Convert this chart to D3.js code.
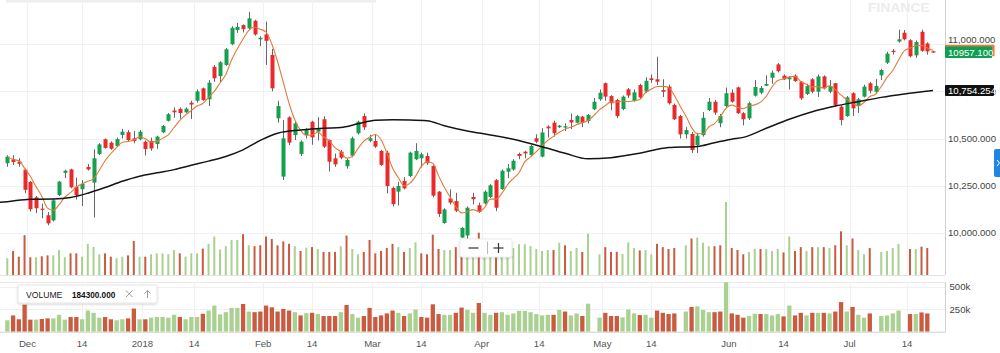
<!DOCTYPE html>
<html><head><meta charset="utf-8">
<script src="https://cdn.jsdelivr.net/npm/d3@7"></script>
<style>
body{margin:0;background:#fff;overflow:hidden;}
svg{display:block;font-family:"Liberation Sans",Arial,Helvetica,sans-serif;}
</style>
</head><body>
<svg id="chart" width="1000" height="353"></svg>
<script>
// ---------- DATA ----------
const opens = [10369,10390,10378,10335,10270,10188,10128,10093,10066,10200,10318,10336,10244,10231,10349,10266,10418,10496,10478,10460,
10519,10533,10501,10496,10483,10487,10471,10533,10594,10648,10657,10639,10690,10700,10766,10708,10880,10831,10890,11000,
11075,11101,11084,11124,11026,11052,10943,10607,10298,10612,10518,10418,10518,10589,10536,10602,10492,10395,10430,10353,
10409,10528,10619,10488,10487,10434,10425,10238,10218,10275,10301,10390,10395,10407,10354,10218,10052,10182,10168,9975,
9986,10190,10146,10156,10190,10279,10232,10324,10336,10418,10430,10412,10501,10404,10563,10584,10560,10558,10598,10584,
10616,10593,10655,10708,10793,10725,10704,10656,10761,10699,10783,10748,10819,10814,10757,10775,10678,10619,10522,10524,
10466,10518,10651,10695,10581,10672,10743,10771,10634,10607,10727,10743,10780,10822,10893,10833,10814,10833,10801,10736,
10814,10748,10829,10748,10793,10669,10619,10740,10672,10722,10793,10748,10835,10902,10965,11014,11061,11021,10941,11066,
11004,10962];
const highs = [10412,10412,10395,10340,10275,10195,10155,10110,10180,10275,10335,10340,10293,10279,10365,10443,10476,10500,10485,10505,
10551,10545,10540,10545,10490,10505,10515,10572,10635,10665,10665,10665,10700,10760,10770,10810,10890,10910,10980,11095,
11113,11105,11172,11130,11042,11119,10975,10700,10598,10618,10590,10490,10555,10594,10613,10618,10495,10420,10440,10395,
10510,10595,10633,10520,10523,10440,10435,10245,10270,10295,10430,10475,10425,10425,10358,10222,10130,10230,10212,10030,
10140,10212,10160,10225,10258,10285,10335,10365,10390,10425,10435,10468,10522,10555,10570,10595,10572,10580,10633,10625,
10620,10630,10715,10760,10797,10730,10710,10728,10768,10760,10790,10825,10840,10934,10814,10785,10685,10625,10560,10535,
10530,10640,10715,10705,10630,10770,10760,10775,10640,10695,10810,10778,10835,10860,10900,10840,10830,10840,10805,10790,
10820,10840,10835,10810,10795,10675,10725,10745,10715,10785,10800,10815,10870,10960,10975,11077,11075,11027,11020,11077,
11010,10965];
const lows = [10350,10360,10350,10210,10113,10104,10077,10040,10060,10195,10290,10236,10177,10142,10330,10081,10412,10446,10440,10455,
10500,10485,10475,10490,10410,10435,10445,10528,10590,10610,10605,10635,10603,10690,10700,10672,10800,10800,10885,10995,
11060,11062,11078,11045,10990,10890,10750,10584,10280,10465,10492,10407,10500,10467,10490,10450,10325,10350,10390,10340,
10400,10522,10545,10480,10450,10355,10210,10140,10145,10230,10295,10385,10346,10360,10188,10084,10048,10150,10110,9972,
9950,10150,10105,10150,10185,10115,10228,10290,10330,10390,10395,10405,10475,10400,10505,10510,10555,10540,10550,10580,
10560,10580,10650,10700,10700,10650,10608,10650,10715,10695,10710,10742,10795,10783,10720,10680,10598,10500,10500,10423,
10423,10510,10645,10625,10560,10665,10690,10630,10570,10598,10722,10735,10778,10790,10850,10810,10760,10800,10705,10730,
10740,10720,10760,10740,10670,10570,10615,10620,10635,10718,10740,10740,10810,10895,10945,11008,11020,10930,10928,10960,
10944,10955];
const closes = [10404,10375,10366,10228,10125,10130,10122,10050,10172,10271,10329,10241,10200,10259,10336,10395,10469,10450,10446,10497,
10536,10492,10487,10536,10444,10447,10510,10566,10629,10639,10635,10658,10680,10750,10704,10796,10819,10904,10973,11087,
11092,11080,11137,11052,11034,11018,10766,10672,10501,10478,10580,10483,10545,10506,10554,10457,10377,10363,10398,10386,
10501,10589,10559,10501,10457,10360,10248,10152,10248,10236,10425,10434,10416,10369,10197,10100,10124,10160,10117,10026,
10133,10178,10111,10218,10252,10133,10329,10342,10382,10407,10421,10460,10483,10532,10554,10528,10568,10565,10585,10619,
10584,10625,10695,10743,10722,10687,10619,10722,10728,10745,10718,10806,10810,10801,10748,10687,10602,10522,10545,10439,
10515,10610,10695,10637,10619,10740,10695,10634,10602,10687,10773,10768,10789,10849,10857,10814,10824,10805,10713,10778,
10748,10829,10766,10778,10678,10598,10718,10660,10708,10775,10753,10778,10863,10950,10958,11026,11026,10936,11012,10965,
10962,10957.1];
const volumes = [127000,181000,138000,300000,134000,134000,141000,148000,148000,188000,134000,163000,163000,138000,235000,210000,156000,163000,138000,127000,
138000,148000,257000,138000,138000,156000,163000,163000,156000,188000,163000,138000,163000,163000,199000,235000,290000,192000,217000,264000,
264000,308000,224000,217000,224000,290000,271000,224000,253000,235000,217000,181000,206000,210000,196000,174000,174000,174000,217000,297000,
196000,156000,174000,264000,163000,181000,203000,235000,210000,174000,203000,246000,163000,156000,304000,196000,188000,188000,210000,268000,
243000,210000,319000,210000,188000,210000,217000,188000,203000,232000,232000,217000,196000,181000,188000,188000,243000,224000,181000,203000,
174000,311000,0,156000,210000,174000,174000,159000,246000,203000,185000,188000,156000,235000,210000,196000,203000,0,224000,275000,
282000,243000,217000,217000,224000,550000,203000,188000,156000,174000,199000,196000,196000,181000,196000,170000,290000,181000,210000,181000,
210000,210000,210000,203000,224000,329000,224000,275000,188000,156000,203000,0,174000,181000,203000,235000,0,196000,196000,214000,
203000,0];
// long moving average (black line), read at these candle indices
const longMaIndex = [-2,0,4,8,11,14,17,20,23,26,29,32,35,38,41,44,47,51,55,58,61,64,67,70,73,76,80,84,88,94,97,101,105,110,115,120,123,126,128,132,136,140,144,148,152,156,161];
const longMaValue = [10160,10165,10178,10179,10187,10210,10240,10273,10300,10318,10335,10358,10380,10405,10440,10490,10528,10545,10555,10558,10578,10597,10599,10598,10594,10568,10540,10519,10496,10448,10422,10392,10398,10422,10452,10458,10478,10496,10506,10554,10602,10642,10672,10695,10718,10736,10754.254];
const shortMaPeriod = 5;
const priceTicks = [10000,10250,10500,10750,11000];
const volumeTicks = [250000,500000];
const xTickLabels = ["Dec","14","2018","14","Feb","14","Mar","14","Apr","14","May","14","Jun","14","Jul","14"];
const xTickAt = [3.5,13,23.5,32.5,44.5,53,63.5,72,82.5,92.5,103.5,112,125.5,135,146.5,156.5];
const lastPrice = 10957.1;
const longMaLast = 10754.254;
const volumeReadout = 184300;
const volumeTitle = "VOLUME";
const watermark = "FINANCE";

// ---------- LAYOUT ----------
const svg = d3.select("#chart");
const plotRight = 945, mainTop = 0, mainBottom = 275, panelTop = 282, panelBottom = 331.7;
const n = closes.length;
const x = d3.scaleLinear().domain([0, n - 1]).range([7.3, 933]);
const y = d3.scaleLinear().domain([10000, 10500]).range([232.8, 138.5]);
const yUnder = d3.scaleLinear().domain([0, 550000]).range([mainBottom, 202]);
const yVol = d3.scaleLinear().domain([0, 500000]).range([panelBottom, 286.7]);

const C = {up:"#13a04f", down:"#ea2a2a", wick:"#666", vUp:"#a9d191", vDown:"#c85b40",
  grid:"#f1f1f1", axis:"#d0d0d0", text:"#444", orange:"#e27b3b", black:"#151515"};

const data = closes.map((c, i) => ({i, o: opens[i], h: highs[i], l: lows[i], c, v: volumes[i]}));

const defs = svg.append("defs");
defs.append("clipPath").attr("id","clipMain").append("rect").attr("x",0).attr("y",mainTop).attr("width",plotRight).attr("height",mainBottom-mainTop);
defs.append("clipPath").attr("id","clipPanel").append("rect").attr("x",0).attr("y",panelTop).attr("width",plotRight).attr("height",panelBottom-panelTop);
const sh = defs.append("filter").attr("id","shadow").attr("x","-20%").attr("y","-40%").attr("width","140%").attr("height","180%");
sh.append("feDropShadow").attr("dx",0).attr("dy",1).attr("stdDeviation",1.2).attr("flood-color","#000").attr("flood-opacity",0.18);

// faint strip at top
svg.append("rect").attr("x",6).attr("y",0).attr("width",370).attr("height",2.5).attr("fill","#eeeeee");

// gridlines
const grid = svg.append("g");
grid.selectAll(".hg").data(priceTicks).join("line")
  .attr("x1",0).attr("x2",plotRight).attr("y1",d=>Math.round(y(d))+0.5).attr("y2",d=>Math.round(y(d))+0.5)
  .attr("stroke",C.grid);
grid.selectAll(".vg").data(xTickAt).join("line")
  .attr("x1",d=>Math.round(x(d))+0.5).attr("x2",d=>Math.round(x(d))+0.5).attr("y1",mainTop).attr("y2",mainBottom)
  .attr("stroke",C.grid);
grid.selectAll(".vg2").data(xTickAt).join("line")
  .attr("x1",d=>Math.round(x(d))+0.5).attr("x2",d=>Math.round(x(d))+0.5).attr("y1",panelTop).attr("y2",panelBottom)
  .attr("stroke",C.grid);
grid.selectAll(".hg2").data(volumeTicks).join("line")
  .attr("x1",0).attr("x2",plotRight).attr("y1",d=>Math.round(yVol(d))+0.5).attr("y2",d=>Math.round(yVol(d))+0.5)
  .attr("stroke",C.grid);

// watermark
svg.append("text").attr("x",868).attr("y",11.5).text(watermark)
  .attr("font-size",13.6).attr("font-weight","bold").attr("fill","#ececec").attr("letter-spacing",0.2);

const isUpVol = d => d.i === 0 ? true : d.c >= closes[d.i - 1];

// volume underlay in main chart
const main = svg.append("g").attr("clip-path","url(#clipMain)");
main.selectAll(".uv").data(data.filter(d=>d.v>0)).join("rect")
  .attr("x",d=>x(d.i)-1).attr("width",2)
  .attr("y",d=>yUnder(d.v)).attr("height",d=>mainBottom-yUnder(d.v))
  .attr("fill",d=>isUpVol(d)?C.vUp:C.vDown);

// candles
const cg = main.append("g");
cg.selectAll(".wick").data(data).join("line")
  .attr("x1",d=>Math.round(x(d.i))+0.5).attr("x2",d=>Math.round(x(d.i))+0.5)
  .attr("y1",d=>y(d.h)).attr("y2",d=>y(d.l))
  .attr("stroke",C.wick).attr("stroke-width",1);
cg.selectAll(".body").data(data).join("rect")
  .attr("x",d=>Math.round(x(d.i))-1.5).attr("width",4)
  .attr("y",d=>y(Math.max(d.o,d.c)))
  .attr("height",d=>Math.max(1.2, Math.abs(y(d.o)-y(d.c))))
  .attr("fill",d=>d.c>=d.o?C.up:C.down);

// short moving average study of the closes
const shortMa = closes.map((c,i)=>{
  const s = closes.slice(Math.max(0,i-shortMaPeriod+1), i+1);
  return d3.mean(s);
});
main.append("path").datum(shortMa)
  .attr("d", d3.line().x((d,i)=>x(i)).y(d=>y(d)).curve(d3.curveMonotoneX))
  .attr("fill","none").attr("stroke",C.orange).attr("stroke-width",1.1);

// long moving average
main.append("path").datum(longMaIndex.map((k,j)=>[k,longMaValue[j]]))
  .attr("d", d3.line().x(d=>x(d[0])).y(d=>y(d[1])).curve(d3.curveMonotoneX))
  .attr("fill","none").attr("stroke",C.black).attr("stroke-width",1.5);

// axes frame
svg.append("line").attr("x1",plotRight+0.5).attr("x2",plotRight+0.5).attr("y1",0).attr("y2",mainBottom).attr("stroke",C.axis);
svg.append("line").attr("x1",0).attr("x2",plotRight).attr("y1",mainBottom+0.5).attr("y2",mainBottom+0.5).attr("stroke","#e2e2e2");
svg.append("line").attr("x1",0).attr("x2",plotRight).attr("y1",panelTop+0.5).attr("y2",panelTop+0.5).attr("stroke","#ececec");
svg.append("line").attr("x1",plotRight+0.5).attr("x2",plotRight+0.5).attr("y1",panelTop).attr("y2",panelBottom).attr("stroke",C.axis);
svg.append("line").attr("x1",0).attr("x2",plotRight+1).attr("y1",panelBottom+0.5).attr("y2",panelBottom+0.5).attr("stroke",C.axis);

// price axis labels (a label that would sit on the last-price tag is nudged up, as in the reference)
const fmtAxis = d3.format(",.3f");
const tagH = 11.5;
svg.append("g").selectAll("text").data(priceTicks).join("text")
  .attr("x",948)
  .attr("y",d=>{
    const yy = y(d);
    const near = Math.abs(yy - y(lastPrice)) < tagH;
    return near ? y(lastPrice) - tagH + 2.5 : yy + 3.4;
  })
  .text(d=>fmtAxis(d))
  .attr("font-size",9.6).attr("fill",C.text);

// current value tags
const tag = (val, fill, label, w, hgt) => {
  const g = svg.append("g");
  g.append("rect").attr("x",plotRight).attr("y",y(val)-hgt/2).attr("width",w).attr("height",hgt).attr("rx",1).attr("fill",fill);
  if (label) g.append("text").attr("x",plotRight+3).attr("y",y(val)+3.4).text(label)
    .attr("font-size",9.6).attr("fill","#fff");
};
tag(shortMa[n-1], C.orange, null, 49.5, tagH);
tag(lastPrice, "#0f9f52", d3.format(".3f")(lastPrice), 47, tagH);
tag(longMaLast, "#111", fmtAxis(longMaLast), 49, 11);

// volume panel bars
const panel = svg.append("g").attr("clip-path","url(#clipPanel)");
panel.selectAll(".pv").data(data.filter(d=>d.v>0)).join("rect")
  .attr("x",d=>x(d.i)-2.1).attr("width",4.3)
  .attr("y",d=>yVol(d.v)).attr("height",d=>panelBottom-yVol(d.v))
  .attr("fill",d=>isUpVol(d)?C.vUp:C.vDown);

// volume axis labels
svg.append("g").selectAll("text").data(volumeTicks).join("text")
  .attr("x",949.5).attr("y",d=>yVol(d)+3.4).text(d=>d3.format("~s")(d))
  .attr("font-size",9.6).attr("fill",C.text);

// x axis labels
svg.append("g").selectAll("text").data(xTickAt).join("text")
  .attr("x",d=>x(d)).attr("y",346.5).attr("text-anchor","middle")
  .text((d,i)=>xTickLabels[i]).attr("font-size",9.6).attr("fill","#555");

// VOLUME study label
const vl = svg.append("g");
vl.append("rect").attr("x",18).attr("y",285).attr("width",139).attr("height",18).attr("rx",2)
  .attr("fill","#fff").attr("stroke","#e6e6e6").attr("filter","url(#shadow)");
vl.append("text").attr("x",26).attr("y",297.5).text(volumeTitle).attr("font-size",8.6).attr("fill","#222");
vl.append("text").attr("x",72).attr("y",297.8).text(d3.format(".3f")(volumeReadout)).attr("font-size",8.2).attr("font-weight","bold").attr("fill","#111");
vl.append("path").attr("d","M126,290.5 L132.5,297 M132.5,290.5 L126,297").attr("stroke","#9a9a9a").attr("stroke-width",1);
vl.append("path").attr("d","M147.5,298 L147.5,290.5 M144.5,293.5 L147.5,290.5 L150.5,293.5").attr("stroke","#9a9a9a").attr("stroke-width",1).attr("fill","none");

// zoom control
const zc = svg.append("g");
zc.append("rect").attr("x",460).attr("y",239).attr("width",52).attr("height",18).attr("rx",2)
  .attr("fill","#fff").attr("stroke","#ececec").attr("filter","url(#shadow)");
zc.append("line").attr("x1",468.5).attr("x2",478.5).attr("y1",248).attr("y2",248).attr("stroke","#333").attr("stroke-width",1.2);
zc.append("line").attr("x1",487.5).attr("x2",487.5).attr("y1",241.5).attr("y2",254).attr("stroke","#bbb");
zc.append("line").attr("x1",493.5).attr("x2",503.5).attr("y1",248).attr("y2",248).attr("stroke","#333").attr("stroke-width",1.2);
zc.append("line").attr("x1",498.5).attr("x2",498.5).attr("y1",243).attr("y2",253).attr("stroke","#333").attr("stroke-width",1.2);

// blue side tab
svg.append("path").attr("d","M1000,149 L996,149 Q994,149 994,151 L994,175 Q994,177 996,177 L1000,177 Z").attr("fill","#1d86e3");
svg.append("path").attr("d","M997,160 L999.5,163 L997,166").attr("stroke","#fff").attr("stroke-width",1).attr("fill","none");
</script>
</body></html>
